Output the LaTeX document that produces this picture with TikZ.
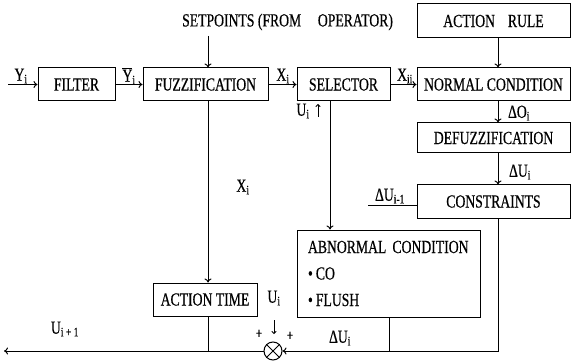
\documentclass[tikz,border=0pt]{standalone}
\usepackage{fontspec}
\setmainfont{Liberation Serif}[FakeStretch=0.74,FakeBold=0.5]
\usetikzlibrary{arrows.meta}
\begin{document}
\begin{tikzpicture}[x=1pt,y=-1pt,
  font=\fontsize{18.5}{21}\selectfont,
  blk/.style={draw, line width=1pt, inner sep=0pt},
  conn/.style={line width=1pt},
  arr/.style={conn, -{To[length=4pt,width=7pt]}},
  sarr/.style={line width=0.9pt, -{To[length=3pt,width=5pt]}},
  lbl/.style={inner sep=0pt},
  pls/.style={inner sep=0pt, font=\fontsize{15}{15}\selectfont}]
\useasboundingbox (0,0) rectangle (574,361);
% blocks
\node[blk, minimum width=77pt, minimum height=33pt] (filter) at (76.5,84.5) {FILTER};
\node[blk, minimum width=125pt, minimum height=33pt] (fuzz) at (205.5,84.5) {FUZZIFICATION};
\node[blk, minimum width=93pt, minimum height=33pt] (sel) at (343.5,84.5) {SELECTOR};
\node[blk, minimum width=153pt, minimum height=33pt] (normal) at (493.5,84.5) {NORMAL CONDITION};
\node[blk, minimum width=153pt, minimum height=34pt] (arule) at (493.5,21) {ACTION\hspace{0.7em}RULE};
\node[blk, minimum width=153pt, minimum height=30pt] (defuzz) at (493.5,138) {DEFUZZIFICATION};
\node[blk, minimum width=153pt, minimum height=33pt] (constr) at (493.5,201.5) {CONSTRAINTS};
\node[blk, minimum width=183pt, minimum height=87pt, text width=161pt, align=left,
      inner xsep=11pt, font=\fontsize{18.5}{26.5}\selectfont] (abn) at (388.5,273.5)
      {ABNORMAL CONDITION\\ •\,CO\\ •\,FLUSH};
\node[blk, minimum width=104pt, minimum height=33pt] (atime) at (205,299.5) {ACTION TIME};
\node[draw, circle, line width=1pt, minimum size=18pt, inner sep=0pt] (sum) at (273,351) {};
\draw[conn] (sum.north west) -- (sum.south east) (sum.north east) -- (sum.south west);
% setpoints
\node[lbl, anchor=west] (sp) at (182,22) {SETPOINTS (FROM\hspace{0.9em}OPERATOR)};
\coordinate (spx) at (208,36);
\coordinate (fx) at (208,0);
\coordinate (rc) at (498,0);
\coordinate (sc) at (330,0);
\draw[arr] (spx) -- (spx |- fuzz.north);
% main row
\coordinate (yin) at (8,84.5);
\draw[arr] (yin) -- (filter);
\draw[arr] (filter) -- (fuzz);
\draw[arr] (fuzz) -- (sel);
\draw[arr] (sel) -- (normal);
\node[lbl] (lyi) at (21,76) {Y\textsubscript{i}};
\node[lbl] (lyb) at (129,76) {$\overline{\mbox{Y}}$\textsubscript{i}};
\node[lbl] (lxi) at (283,76) {X\textsubscript{i}};
\node[lbl] (lxii) at (405,76) {X\textsubscript{ii}};
% right column
\draw[arr] (arule.south -| rc) -- (normal.north -| rc);
\draw[arr] (normal.south -| rc) -- (defuzz.north -| rc);
\draw[arr] (defuzz.south -| rc) -- (constr.north -| rc);
\node[lbl] (ldo) at (519,113) {ΔO\textsubscript{i}};
\node[lbl] (ldu) at (520,172) {ΔU\textsubscript{i}};
\coordinate (dui) at (368,205);
\draw[conn] (dui) -- (dui -| constr.west);
\node[lbl] (ldum) at (390,196) {ΔU\textsubscript{i-1}};
% feedback
\coordinate (fb) at (498,351);
\coordinate (aj) at (389,351);
\draw[arr] (constr.south -| rc) -- (fb) -- (sum.east);
\draw[conn] (abn.south -| aj) -- (aj);
\node[lbl] (ldub) at (340,338) {ΔU\textsubscript{i}};
% selector to abnormal
\draw[arr] (sel.south -| sc) -- (abn.north -| sc);
\coordinate (ua1) at (318,117);
\coordinate (ua2) at (318,104);
\draw[sarr] (ua1) -- (ua2);
\node[lbl] (lus) at (303,111) {U\textsubscript{i}};
% fuzz to action time
\draw[arr] (fuzz.south -| fx) -- (atime.north -| fx);
\node[lbl] (lxd) at (243,187) {X\textsubscript{i}};
\draw[conn] (atime.south -| fx) -- (fx |- sum);
% output
\coordinate (out) at (4,351);
\draw[arr] (sum.west) -- (out);
\node[lbl] (luo) at (65,329) {U\textsubscript{i + 1}};
% sum inputs
\node[lbl] (lusum) at (274,298) {U\textsubscript{i}};
\coordinate (ud1) at (274,320);
\coordinate (ud2) at (274,334);
\draw[sarr] (ud1) -- (ud2);
\node[pls] (p1) at (259,334) {+};
\node[pls] (p2) at (290,336) {+};
\end{tikzpicture}
\end{document}
